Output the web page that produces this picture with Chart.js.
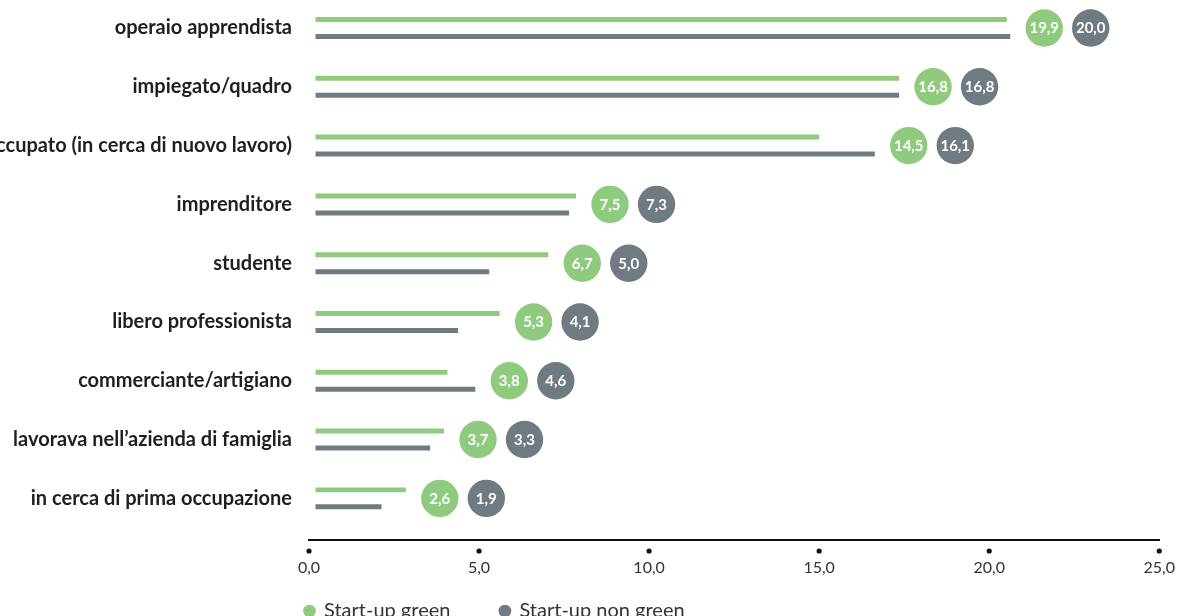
<!DOCTYPE html>
<html><head><meta charset="utf-8">
<script src="https://cdn.jsdelivr.net/npm/chart.js@4.4.1/dist/chart.umd.min.js"></script>
<style>html,body{margin:0;padding:0;background:#fff;overflow:hidden}</style>
</head><body>
<canvas id="c" width="1179" height="616"></canvas>
<script>
const categories = [
  'operaio apprendista',
  'impiegato/quadro',
  'occupato (in cerca di nuovo lavoro)',
  'imprenditore',
  'studente',
  'libero professionista',
  'commerciante/artigiano',
  'lavorava nell\u2019azienda di famiglia',
  'in cerca di prima occupazione'
];
const greenValues    = [19.9, 16.8, 14.5, 7.5, 6.7, 5.3, 3.8, 3.7, 2.6];
const nonGreenValues = [20.0, 16.8, 16.1, 7.3, 5.0, 4.1, 4.6, 3.3, 1.9];
const axisTicks = [0, 5, 10, 15, 20, 25];
const seriesNames = ['Start-up green', 'Start-up non green'];

const GREEN = '#8fca7e', GRAY = '#6f7a81';
const FONT = 'Lato, "Open Sans", sans-serif';
const fmt = v => Number(v).toFixed(1).replace('.', ',');

const valueBadges = {
  id: 'valueBadges',
  afterDatasetsDraw(chart) {
    const ctx = chart.ctx;
    const m0 = chart.getDatasetMeta(0), m1 = chart.getDatasetMeta(1);
    const yS = chart.scales.y;
    ctx.save();
    categories.forEach((c, i) => {
      const end = Math.max(m0.data[i].x, m1.data[i].x);
      const yc = yS.getPixelForValue(i);
      [[greenValues[i], GREEN, 34], [nonGreenValues[i], GRAY, 80.5]].forEach(([v, col, off]) => {
        ctx.beginPath();
        ctx.arc(end + off, yc, 18.7, 0, Math.PI * 2);
        ctx.fillStyle = col;
        ctx.fill();
        ctx.fillStyle = '#fff';
        ctx.font = 'bold 15px ' + FONT;
        ctx.textAlign = 'center';
        ctx.textBaseline = 'middle';
        ctx.fillText(fmt(v), end + off, yc + 0.5);
      });
    });
    ctx.restore();
  }
};

const tickDots = {
  id: 'tickDots',
  afterDraw(chart) {
    const s = chart.scales.x2, ctx = chart.ctx;
    ctx.save();
    ctx.fillStyle = '#111';
    s.ticks.forEach(t => {
      ctx.beginPath();
      ctx.arc(s.getPixelForValue(t.value), chart.chartArea.bottom + 11, 2.6, 0, Math.PI * 2);
      ctx.fill();
    });
    ctx.restore();
  }
};

const legendPlace = {
  id: 'legendPlace',
  afterLayout(chart) {
    const lg = chart.legend;
    if (!lg) return;
    const pad = lg.options.labels.padding;
    const fs = lg.options.labels.font.size;
    lg.left = chart.chartArea.left - 4 - pad;
    lg.top = chart.chartArea.bottom + 71 - pad - fs / 2;
  }
};

new Chart(document.getElementById('c'), {
  type: 'bar',
  data: {
    datasets: [
      { label: seriesNames[0], data: greenValues.map((v, i) => ({ x: v, y: i })), backgroundColor: GREEN, borderWidth: 0 },
      { label: seriesNames[1], data: nonGreenValues.map((v, i) => ({ x: v, y: i })), backgroundColor: GRAY, borderWidth: 0 }
    ]
  },
  options: {
    responsive: false,
    animation: false,
    indexAxis: 'y',
    categoryPercentage: 0.578,
    barPercentage: 0.294,
    layout: { padding: { left: 0, right: 18, top: 0, bottom: 0 } },
    scales: {
      x: { type: 'linear', display: false, min: -0.187, max: 24.29 },
      x2: {
        type: 'linear', position: 'bottom', min: 0, max: 25, offset: false,
        afterBuildTicks: s => { s.ticks = axisTicks.map(v => ({ value: v })); },
        ticks: { callback: v => fmt(v), font: { family: FONT, size: 16 }, color: '#333', padding: 4, autoSkip: false, maxRotation: 0 },
        grid: { display: true, drawOnChartArea: false, drawTicks: true, tickLength: 14, color: 'rgba(0,0,0,0)' },
        border: { display: true, color: '#111', width: 2, dash: [1, 2] },
        afterFit: s => { s.height = 40; }
      },
      y: {
        type: 'linear', reverse: true, offset: false, min: -0.476, max: 8.708,
        afterBuildTicks: s => { s.ticks = categories.map((_, i) => ({ value: i })); },
        ticks: { callback: v => categories[v], font: { family: FONT, size: 20, weight: 'bold' }, color: '#1f1f1f', padding: 17, autoSkip: false },
        grid: { display: false, drawTicks: false, offset: false },
        border: { display: false },
        afterFit: s => { s.width = 309; s.paddingTop = 0; s.paddingBottom = 0; }
      }
    },
    plugins: {
      tooltip: { enabled: false },
      legend: {
        position: 'bottom', align: 'start', fullSize: false, maxHeight: 36,
        labels: { usePointStyle: true, pointStyle: 'circle', boxWidth: 9, boxHeight: 9, padding: 50, color: '#333', font: { family: FONT, size: 20 } }
      }
    }
  },
  plugins: [valueBadges, tickDots, legendPlace]
});
</script>
</body></html>
